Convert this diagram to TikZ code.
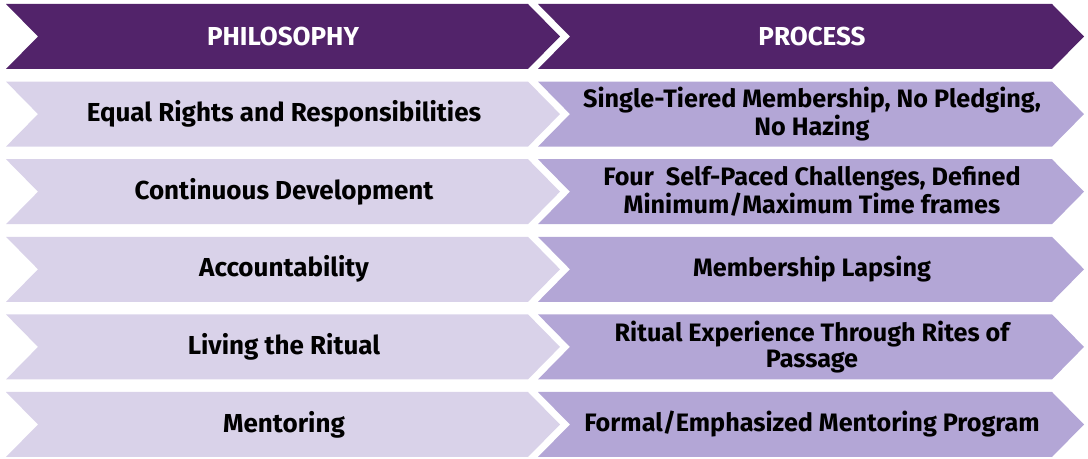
\documentclass[tikz,border=0pt]{standalone}
\usepackage{fontspec}
\setmainfont{Fira Sans}
\usepackage{tikz}
\usetikzlibrary{positioning}
\definecolor{headpurple}{RGB}{82, 35, 106}
\definecolor{lightlilac}{RGB}{217, 210, 233}
\definecolor{midlilac}{RGB}{179, 166, 214}

% chevron: left x, top y, body width, colour
\newcommand{\chevron}[4]{%
  \fill[#4] (#1,#2) -- ++(#3,0) -- ++(32,32.5) -- ++(-32,32.5) -- ++(-#3,0) -- ++(32,-32.5) -- cycle;}

\begin{document}
\begin{tikzpicture}[
    x=0.5pt, y=-0.5pt,
    philo/.style={font=\fontsize{13}{14}\selectfont\bfseries, text=black, align=center},
    proc/.style={font=\fontsize{12.6}{13}\selectfont\bfseries, text=black, align=center},
    head/.style={font=\fontsize{13}{14}\selectfont\bfseries, text=white}
]
\useasboundingbox (0,0) rectangle (1088,459);

% header row
\chevron{6}{4}{522}{headpurple}
\chevron{538}{4}{514}{headpurple}
\node[head] (philosophy) at (283,36.5) {PHILOSOPHY};
\node[head] (process) at (812,36.5) {PROCESS};

% rows
\foreach \i/\left/\right in {
    1/{Equal Rights and Responsibilities}/{Single-Tiered Membership, No Pledging,\\ No Hazing},
    2/{Continuous Development}/{Four~ Self-Paced Challenges, Defined\\ Minimum/Maximum Time frames},
    3/{Accountability}/{Membership Lapsing},
    4/{Living the Ritual}/{Ritual Experience Through Rites of\\ Passage},
    5/{Mentoring}/{Formal/Emphasized Mentoring Program}} {
  \pgfmathsetmacro{\top}{4+77.6*\i}
  \chevron{6}{\top}{522}{lightlilac}
  \chevron{538}{\top}{514}{midlilac}
  \node[philo] (philo\i) at (284,\top+32.5) {\left};
  \node[proc] (proc\i) at (812,\top+32.5) {\right};
}

\end{tikzpicture}
\end{document}
